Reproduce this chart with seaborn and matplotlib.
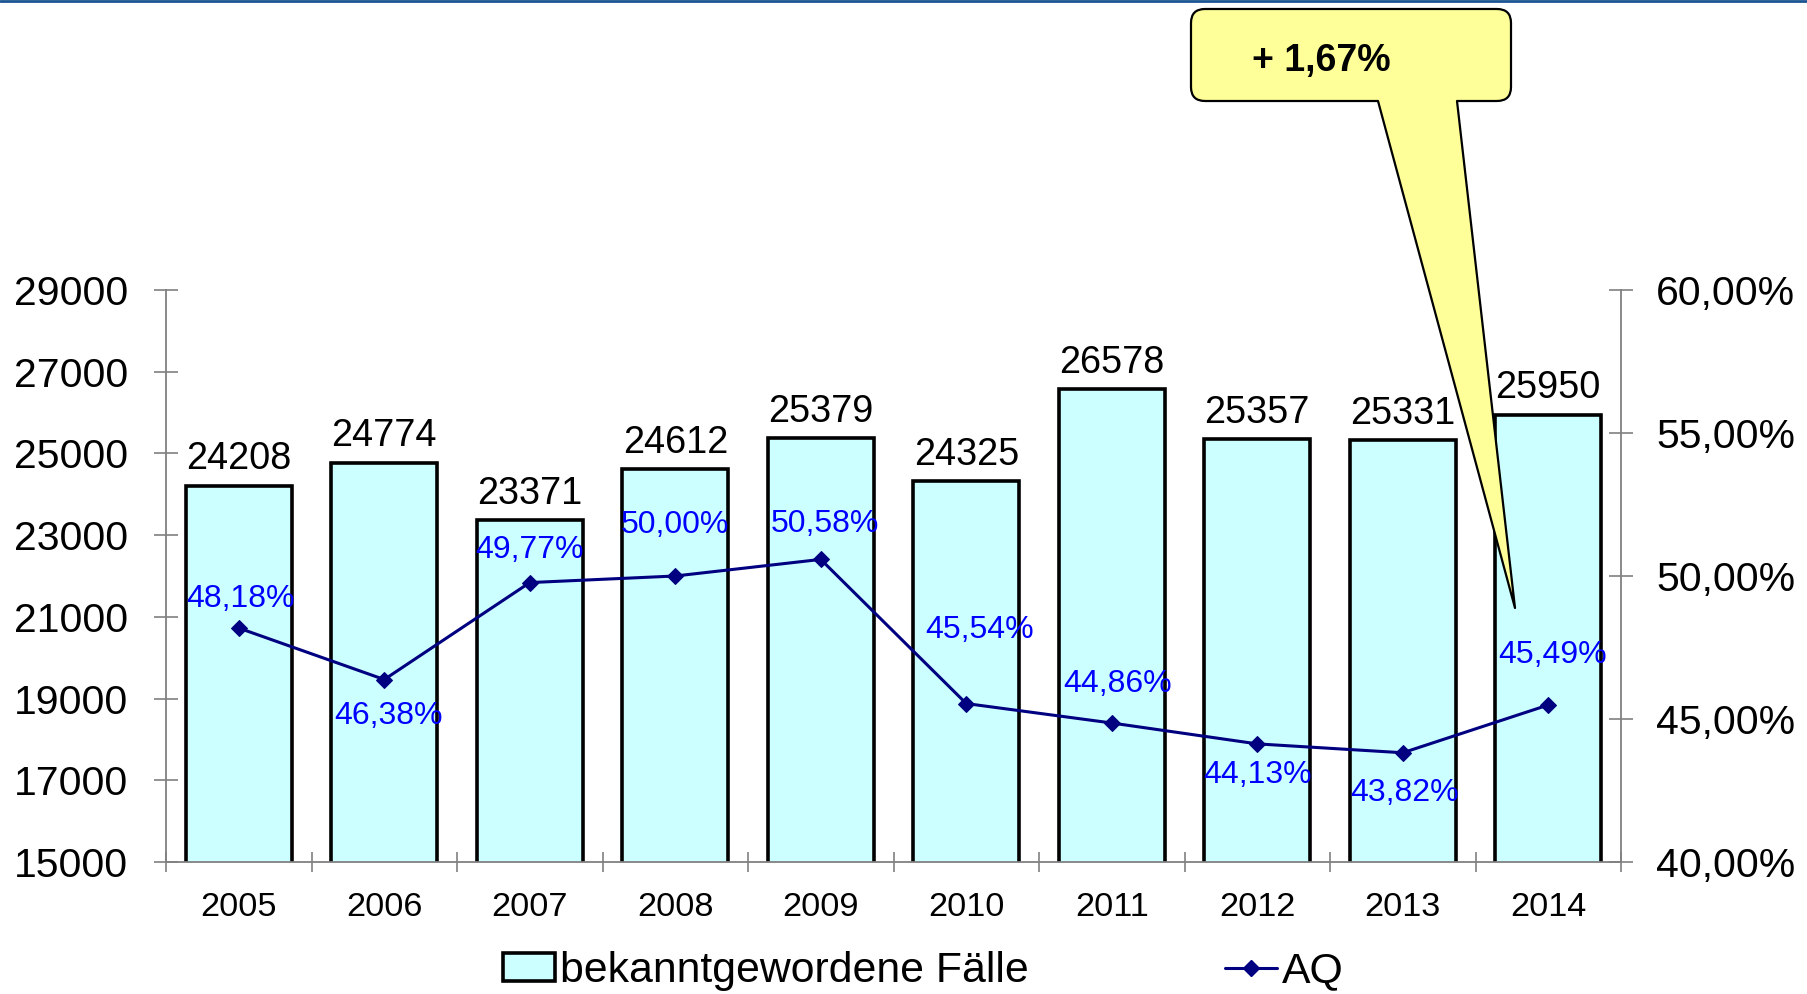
import numpy as np
import pandas as pd
import seaborn as sns
import matplotlib.pyplot as plt
from matplotlib.patches import FancyBboxPatch, Polygon, Patch
from matplotlib.lines import Line2D
from matplotlib.transforms import Affine2D
from matplotlib.ticker import FixedLocator, FuncFormatter, NullFormatter

# data
years = ['2005', '2006', '2007', '2008', '2009', '2010', '2011', '2012', '2013', '2014']
faelle = [24208, 24774, 23371, 24612, 25379, 24325, 26578, 25357, 25331, 25950]
aq = [48.18, 46.38, 49.77, 50.00, 50.58, 45.54, 44.86, 44.13, 43.82, 45.49]
callout_text = '+ 1,67%'

# pixel offsets of the percentage labels relative to their points (+ = above)
aq_label_dy = [29, -36, 33, 51, 35, 74, 39, -31, -40, 50]
aq_label_dx = [2, 4, 0, 0, 4, 13, 6, 0, 2, 4]

df = pd.DataFrame({'Jahr': years, 'Faelle': faelle, 'AQ': aq})

sns.set_style('white')
plt.rcParams['font.family'] = ['Liberation Sans', 'DejaVu Sans']
plt.rcParams['text.color'] = 'black'
plt.rcParams['xtick.labelcolor'] = 'black'
plt.rcParams['ytick.labelcolor'] = 'black'

W, H = 1807, 994
fig = plt.figure(figsize=(W / 100, H / 100), dpi=100)
ax = fig.add_axes([166 / W, 1 - 862 / H, (1621 - 166) / W, (862 - 290) / H])

grey = '#808080'

# bars
sns.barplot(data=df, x='Jahr', y='Faelle', ax=ax, color='#CCFFFF', saturation=1,
            edgecolor='black', linewidth=2.6, width=0.73)
ax.set_xlim(-0.5, len(years) - 0.5)
ax.set_ylim(15000, 29000)
ax.set_yticks(range(15000, 29001, 2000))
ax.set_xlabel('')
ax.set_ylabel('')
ax.bar_label(ax.containers[0], labels=[str(v) for v in faelle], padding=6, fontsize=27.3,
             color='black')

# line on second axis
ax2 = ax.twinx()
sns.lineplot(x=np.arange(len(years)), y=aq, ax=ax2, color='#000080', linewidth=2.2,
             marker='D', markersize=8, markeredgecolor='#000080', legend=False)
ax2.set_xlim(-0.5, len(years) - 0.5)
ax2.set_ylim(40, 60)
ax2.set_yticks(range(40, 61, 5))
ax2.yaxis.set_major_formatter(FuncFormatter(lambda v, p: f'{v:.2f}%'.replace('.', ',')))

for i, v in enumerate(aq):
    ax2.annotate(f'{v:.2f}%'.replace('.', ','), (i, v),
                 xytext=(aq_label_dx[i], aq_label_dy[i]), textcoords='offset pixels',
                 ha='center', va='center', fontsize=23, color='#0000FF')

# spines and ticks
for s in ['top', 'right']:
    ax.spines[s].set_visible(False)
for s in ['top', 'left', 'bottom']:
    ax2.spines[s].set_visible(False)
for sp in [ax.spines['left'], ax.spines['bottom'], ax2.spines['right']]:
    sp.set_color(grey)
    sp.set_linewidth(1.3)

ax.tick_params(axis='y', direction='inout', length=17.5, width=1.2, color=grey,
               pad=18.5, labelsize=29.5, left=True)
ax2.tick_params(axis='y', direction='inout', length=17.5, width=1.2, color=grey,
                pad=16.5, labelsize=29.5, right=True)
ax.xaxis.set_minor_locator(FixedLocator(np.arange(-0.5, len(years), 1.0)))
ax.xaxis.set_minor_formatter(NullFormatter())
ax.tick_params(axis='x', which='major', length=0, pad=21.5, labelsize=24.7)
ax.tick_params(axis='x', which='minor', direction='inout', length=14.5, width=1.2,
               color=grey, bottom=True)

# legend
handles = [Patch(facecolor='#CCFFFF', edgecolor='black', linewidth=2.6),
           Line2D([], [], color='#000080', linewidth=2.2, marker='D', markersize=8)]
fig.legend(handles, ['bekanntgewordene Fälle', 'AQ'], loc='center',
           bbox_to_anchor=(0.511, 0.023), ncol=2, frameon=False, fontsize=30.8,
           handlelength=1.2, handleheight=0.6, handletextpad=0.12, columnspacing=4.6)

# callout (pixel coordinates, origin top-left)
T = Affine2D().scale(1 / W, -1 / H).translate(0, 1) + fig.transFigure
yellow = '#FFFF99'
box = FancyBboxPatch((1191, 9), 320, 92, boxstyle='round,pad=0,rounding_size=14',
                     transform=T, facecolor=yellow, edgecolor='black', linewidth=1.6, zorder=10)
fig.add_artist(box)
tip = (1515, 608)
base_l, base_r = (1378, 101), (1457, 101)
fig.add_artist(Polygon([(1379, 96), (1456, 96), base_r, tip, base_l], closed=True,
                       transform=T, facecolor=yellow, edgecolor='none', zorder=11))
fig.add_artist(Line2D([base_l[0], tip[0], base_r[0]], [base_l[1], tip[1], base_r[1]],
                      transform=T, color='black', linewidth=1.6, zorder=12))
fig.text(1252 / W, 1 - 61 / H, callout_text, fontsize=27, fontweight='bold',
         color='black', ha='left', va='center', zorder=13)

# thin blue rule along the top edge
fig.add_artist(Line2D([0, 1], [1 - 1 / H, 1 - 1 / H], transform=fig.transFigure,
                      color='#1A5490', linewidth=2))

fig.savefig('out.png', dpi=100)
